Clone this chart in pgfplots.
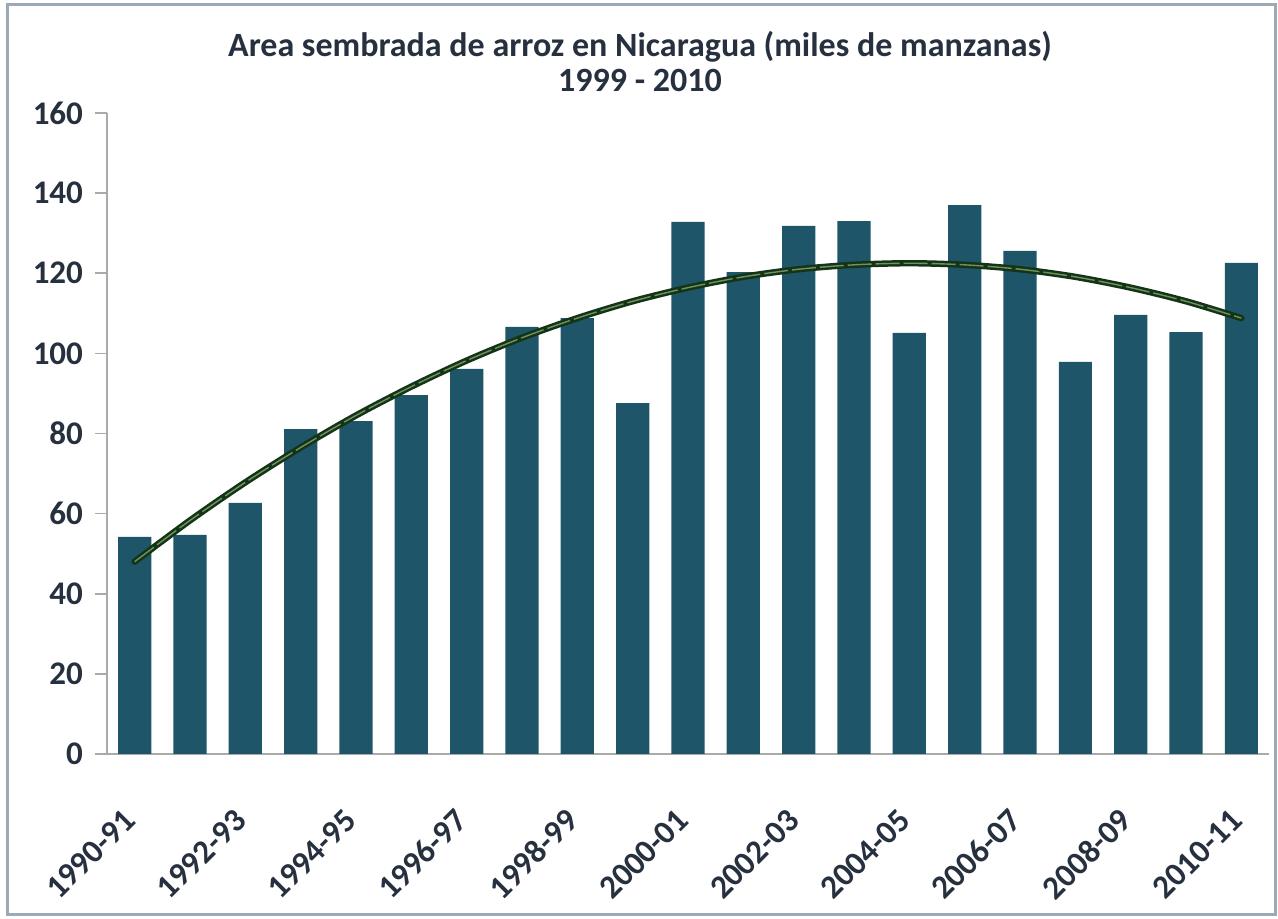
\documentclass[border=0pt]{standalone}
\usepackage{pgfplots}
\pgfplotsset{compat=1.18}
\usepackage{fontspec}
\setmainfont{Carlito}
\definecolor{barc}{RGB}{31,85,104}
\definecolor{txt}{RGB}{38,48,62}
\definecolor{axc}{RGB}{170,170,170}
\definecolor{frame}{RGB}{155,170,182}
\definecolor{trdark}{RGB}{20,52,24}
\definecolor{trlight}{RGB}{115,145,95}
\begin{document}
\begin{tikzpicture}[x=1pt,y=1pt]
\useasboundingbox (0,0) rectangle (639,459.5);
\draw[frame, line width=1.5pt] (3.5,2) rectangle (637.5,457);
\node[font=\fontsize{17}{17.5}\selectfont\bfseries, text=txt, align=center] at (320,428.5) {Area sembrada de arroz en Nicaragua (miles de manzanas)\\ 1999 - 2010};
\begin{axis}[
  at={(53.5pt,82.5pt)}, anchor=south west,
  scale only axis, width=581pt, height=320.5pt,
  xmin=-0.5, xmax=20.5, ymin=0, ymax=160,
  axis x line*=bottom, axis y line*=left,
  axis line style={axc, line width=0.8pt},
  ytick={0,20,...,160},
  ytick style={axc, line width=0.8pt},
  major tick length=6pt,
  tick align=outside,
  yticklabel style={font=\fontsize{16.5}{18}\selectfont\bfseries, text=txt, xshift=-2.5pt},
  /pgf/number format/assume math mode=true,
  xtick={0,2,...,20},
  xticklabels={1990-91,1992-93,1994-95,1996-97,1998-99,2000-01,2002-03,2004-05,2006-07,2008-09,2010-11},
  xtick style={draw=none},
  minor xtick={-0.5,0.5,...,20.5},
  minor x tick style={axc, line width=0.8pt},
  minor tick length=5.5pt,
  xticklabel style={font=\fontsize{16.5}{18}\selectfont\bfseries, text=txt, xshift=0pt, yshift=-22pt, rotate=45, anchor=east},
  clip=false,
]
\addplot[ybar, bar width=0.6, fill=barc, draw=none] coordinates {
(0,54.2) (1,54.7) (2,62.7) (3,81.1) (4,83.1) (5,89.6) (6,96.1) (7,106.6) (8,108.8) (9,87.6)
(10,132.8) (11,120.3) (12,131.8) (13,133.0) (14,105.1) (15,137.0) (16,125.6) (17,97.9) (18,109.6) (19,105.3) (20,122.6)
};
\addplot[trdark, line width=3.2pt, smooth, line cap=round] coordinates {
(0,48.0) (1,58.3) (2,67.8) (3,76.5) (4,84.5) (5,91.7) (6,98.2) (7,103.9) (8,108.8) (9,113.0)
(10,116.4) (11,119.1) (12,121.0) (13,122.1) (14,122.5) (15,122.1) (16,121.0) (17,119.1) (18,116.4) (19,113.0) (20,108.8)
};
\addplot[trlight, line width=0.7pt, smooth, dash pattern=on 12pt off 2pt] coordinates {
(0,48.0) (1,58.3) (2,67.8) (3,76.5) (4,84.5) (5,91.7) (6,98.2) (7,103.9) (8,108.8) (9,113.0)
(10,116.4) (11,119.1) (12,121.0) (13,122.1) (14,122.5) (15,122.1) (16,121.0) (17,119.1) (18,116.4) (19,113.0) (20,108.8)
};
\end{axis}
\end{tikzpicture}
\end{document}
